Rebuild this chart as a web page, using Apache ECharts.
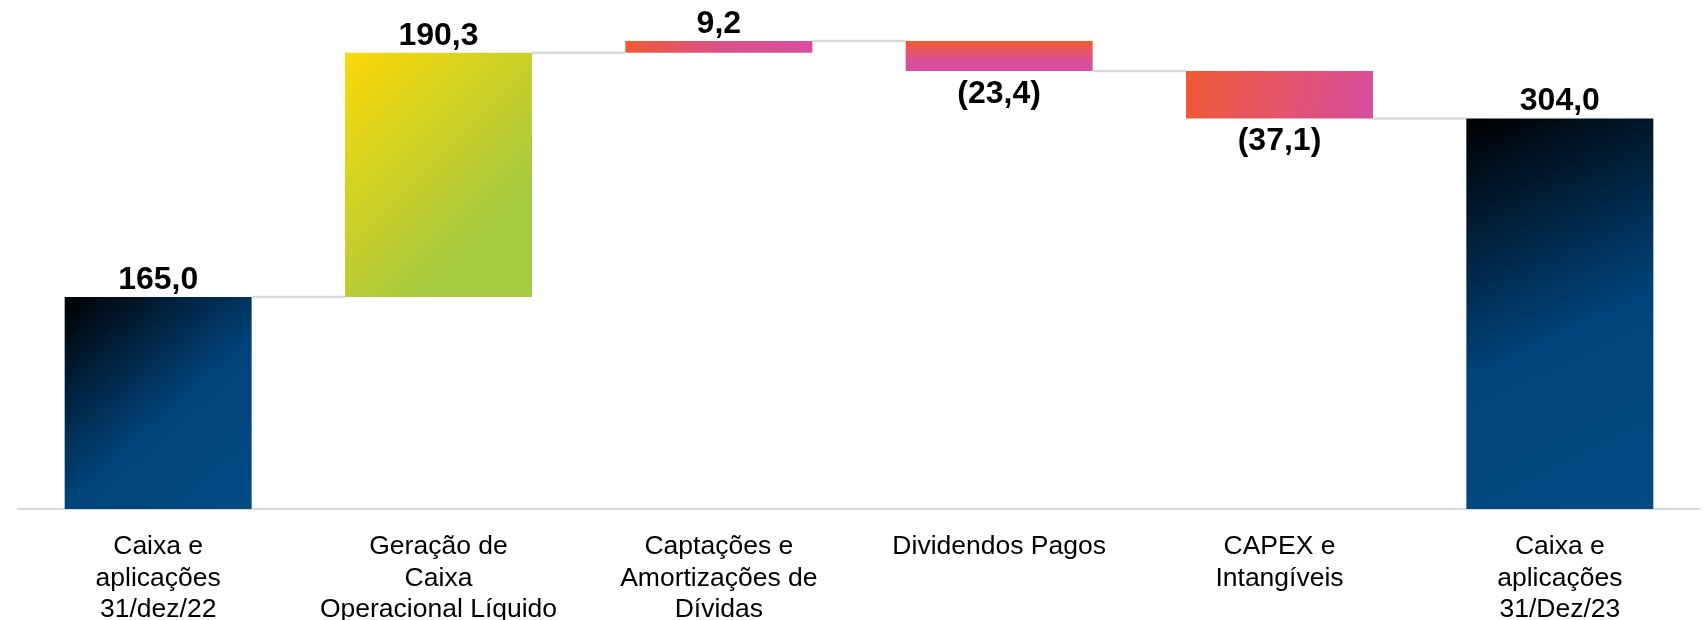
<!DOCTYPE html>
<html>
<head>
<meta charset="utf-8">
<script src="https://cdn.jsdelivr.net/npm/echarts@6/dist/echarts.min.js"></script>
<style>
  html, body { margin: 0; padding: 0; background: #ffffff; }
  #chart { width: 1706px; height: 620px; }
</style>
</head>
<body>
<div id="chart"></div>
<script>
// ---- data ----
const categories = [
  'Caixa e\naplicações\n31/dez/22',
  'Geração de\nCaixa\nOperacional Líquido',
  'Captações e\nAmortizações de\nDívidas',
  'Dividendos Pagos',
  'CAPEX e\nIntangíveis',
  'Caixa e\naplicações\n31/Dez/23'
];
const values = [165.0, 190.3, 9.2, -23.4, -37.1, 304.0];
const kinds = ['total', 'delta', 'delta', 'delta', 'delta', 'total'];
const valueLabels = ['165,0', '190,3', '9,2', '(23,4)', '(37,1)', '304,0'];

// ---- build waterfall rows: [index, low, high, runningTotalAfter] ----
const rows = [];
let running = 0;
values.forEach((v, i) => {
  let lo, hi;
  if (kinds[i] === 'total') {
    lo = 0; hi = v; running = v;
  } else {
    const start = running;
    running = start + v;
    lo = Math.min(start, running);
    hi = Math.max(start, running);
  }
  rows.push([i, lo, hi, running]);
});

// ---- styles ----
const ORANGE = '#f15a33';
const PINK = '#d64fa0';
function fillFor(i, w, h) {
  const G = echarts.graphic.LinearGradient;
  if (kinds[i] === 'total') {
    return new G(0, 0, 1, 1, [
      { offset: 0, color: '#000000' },
      { offset: 0.55, color: '#00437a' },
      { offset: 1, color: '#004b82' }
    ]);
  }
  if (i === 1) {
    return new G(0, 0, 0.85, 0.85 * w / h, [
      { offset: 0, color: '#fbd90a' },
      { offset: 1, color: '#a6ca40' }
    ]);
  }
  if (i === 2) {
    return new G(0, 0, 1, 0, [
      { offset: 0, color: ORANGE },
      { offset: 0.5, color: '#dc5088' },
      { offset: 1, color: PINK }
    ]);
  }
  if (i === 3) {
    return new G(0, 0, 0, 1, [
      { offset: 0, color: ORANGE },
      { offset: 0.75, color: PINK },
      { offset: 1, color: PINK }
    ]);
  }
  return new G(0, 0, 1, 1, [
    { offset: 0, color: ORANGE },
    { offset: 1, color: PINK }
  ]);
}

const chart = echarts.init(document.getElementById('chart'), null, { renderer: 'canvas' });

const FONT = '"Liberation Sans", Arial, Helvetica, sans-serif';

chart.setOption({
  animation: false,
  backgroundColor: '#ffffff',
  grid: { left: 18, right: 6, top: 21, bottom: 111, containLabel: false, outerBoundsMode: 'none' },
  xAxis: {
    type: 'category',
    data: categories,
    boundaryGap: true,
    axisLine: { show: true, lineStyle: { color: '#d9d9d9', width: 2 } },
    axisTick: { show: false },
    axisLabel: {
      interval: 0,
      color: '#000000',
      fontFamily: FONT,
      fontSize: 26.5,
      lineHeight: 31.5,
      margin: 22,
      hideOverlap: false
    },
    splitLine: { show: false }
  },
  yAxis: {
    type: 'value',
    min: 0,
    max: 380,
    show: false,
    splitLine: { show: false }
  },
  series: [{
    type: 'custom',
    data: rows,
    encode: { x: 0, y: [1, 2] },
    clip: false,
    renderItem: function (params, api) {
      const i = api.value(0);
      const lo = api.value(1);
      const hi = api.value(2);
      const end = api.value(3);
      const pTop = api.coord([i, hi]);
      const pBot = api.coord([i, lo]);
      const bw = api.size([1, 0])[0] * 0.667;
      const x = pTop[0] - bw / 2;
      const y = pTop[1];
      const h = pBot[1] - pTop[1];
      const children = [];
      if (i < rows.length - 1) {
        const a = api.coord([i, end]);
        const b = api.coord([i + 1, end]);
        children.push({
          type: 'line',
          z2: 1,
          shape: { x1: a[0] + bw / 2, y1: a[1], x2: b[0] - bw / 2, y2: b[1] },
          style: { stroke: '#d9d9d9', lineWidth: 2.5 }
        });
      }
      children.push({
        type: 'rect',
        z2: 2,
        shape: { x: x, y: y, width: bw, height: h },
        style: { fill: fillFor(i, bw, h) }
      });
      const neg = values[i] < 0;
      children.push({
        type: 'text',
        z2: 3,
        x: pTop[0],
        y: neg ? y + h + 7 : y - 1,
        style: {
          text: valueLabels[i],
          fill: '#000000',
          font: 'bold 32px ' + FONT,
          align: 'center',
          verticalAlign: neg ? 'top' : 'bottom'
        }
      });
      return { type: 'group', children: children };
    }
  }]
});
</script>
</body>
</html>
